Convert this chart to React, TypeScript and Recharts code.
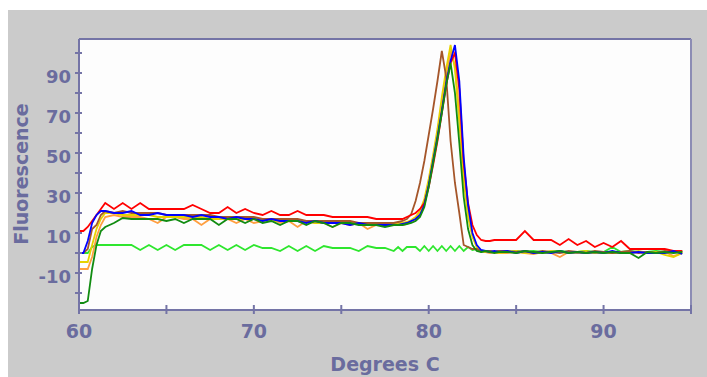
import { LineChart, Line, XAxis, YAxis, CartesianGrid, ReferenceLine } from "recharts";

const AXIS = "#7474a6";
const INK = "#6a6c9e";
const FONT = "'DejaVu Sans', Verdana, sans-serif";

// melt temperatures (°C), finer around the peak
const temps = [
  60, 60.25, 60.5, 60.75, 61, 61.25, 61.5, 62, 62.5, 63, 63.5, 64, 64.5, 65, 65.5, 66, 66.5, 67, 67.5, 68,
  68.5, 69, 69.5, 70, 70.5, 71, 71.5, 72, 72.5, 73, 73.5, 74, 74.5, 75, 75.5, 76, 76.5, 77, 77.5, 78,
  78.25, 78.5, 78.75, 79, 79.25, 79.5, 79.75, 80, 80.25, 80.5, 80.75, 81, 81.25, 81.5, 81.75, 82, 82.25, 82.5, 82.75, 83,
  83.25, 83.5, 83.75, 84,
  84.5, 85, 85.5, 86, 86.5, 87, 87.5, 88, 88.5, 89, 89.5, 90, 90.5, 91, 91.5, 92, 92.5, 93, 93.5, 94, 94.5,
];

const redCurve = [
  11, 11, 13, 16, 19, 22, 25, 22, 25, 22, 25, 22, 22, 22, 22, 22, 24, 22, 20, 20,
  23, 20, 22, 20, 19, 21, 19, 19, 21, 19, 19, 19, 18, 18, 18, 18, 18, 17, 17, 17,
  17, 17, 18, 19, 20, 22, 25, 33, 44, 56, 70, 84, 95, 100, 82, 45, 25, 14, 9, 6.5, 6, 6, 6.5, 6.5,
  6.5, 6.5, 11, 6.5, 6.5, 6.5, 4, 7, 4, 6, 3, 5, 3, 6, 2, 2, 2, 2, 2, 1, 1,
];

const blueCurve = [
  0, 0, 6, 15, 19, 21, 21, 20, 20, 21, 19, 19, 20, 19, 19, 19, 18, 19, 18, 18,
  17, 18, 17, 17, 16, 17, 16, 16, 16, 15, 16, 15, 15, 15, 14, 15, 14, 14, 14, 14,
  14, 14.5, 15, 16, 17, 19, 24, 34, 46, 58, 71, 85, 96, 104, 86, 48, 24, 10, 4, 1.5, 1, 0.5, 1, 0.5,
  1, 0, 1, 0, 0.5, 0, 1, 0, 0.5, 0, 0.5, 0, 1, 0, 0, 0.5, 0, 0, 0, 1, -0.5,
];

const brownCurve = [
  0, 0, 2, 12, 14, 19, 21, 20, 21, 20, 20, 20, 20, 19, 19, 19, 19, 19, 19, 18,
  18, 18, 18, 18, 17, 17, 17, 17, 17, 16, 16, 16, 16, 16, 16, 15, 15, 15, 15, 15,
  15.5, 16, 17, 19.5, 26, 35, 46, 59, 72, 86, 101, 88, 56, 35, 20, 4, 3, 2, 2, 1, 1, 1, 0.5, 1,
  1, 0.5, 1, 0, 1, 0.5, 0, 1, 0.5, 0, 1, 0.5, 0, 0.5, 1, 0, 0.5, 0, 1, 0.5, 0.5,
];

const darkGreenCurve = [
  -25, -25, -24, -8, 4, 11, 13, 15, 17.5, 17, 17, 17, 17, 16, 17, 15, 17, 17, 17, 14,
  17, 17, 15, 17, 15, 16, 14, 16, 16, 14, 16, 15, 13, 15, 15, 14, 14, 14, 13, 14,
  14, 14, 14.5, 15, 16, 18, 23, 33, 45, 57, 70, 84, 95, 80, 55, 28, 12, 4, 1, 0.5, 1, 0.5, 0, 0.5,
  0.5, 0, 1, 0.5, 0, 0.5, 1, 0, 0.5, 0, 0.5, 0, 0.5, 0, 0, -2.5, 0.5, 0, 0.5, 0, 0.5,
];

const yellowCurve = [
  -4.5, -4.5, -4.5, 4, 12, 17, 20, 20, 19, 19, 19, 19, 18, 18, 18, 18, 18, 18, 17, 17,
  17, 17, 17, 17, 17, 16, 16, 16, 16, 16, 15, 15, 15, 15, 15, 15, 15, 14, 14, 15,
  15, 15, 15.5, 16.5, 18, 21, 27, 37, 49, 62, 78, 92, 104, 92, 65, 36, 18, 8, 3, 1, 0.5, 1, 0.5, 0,
  0.5, 1, 0, 0.5, 0, 1, 0.5, 0, 0.5, 1, 0, 0.5, 0, 0.5, 0, 1, 0, 0.5, -1, -2, 0,
];

const orangeCurve = [
  -8, -8, -8, -2, 8, 14, 18, 19, 18, 18, 18, 17, 15, 18, 18, 17, 17, 14, 17, 17,
  17, 15, 17, 15, 16, 17, 15, 16, 13, 16, 15, 15, 13, 15, 14, 15, 12, 14, 14, 14,
  14, 14, 14.5, 15.5, 17, 20, 25, 35, 47, 60, 75, 89, 100, 94, 70, 40, 20, 9, 3, 1, 0.5, 0, 0.5, 0,
  0, 0.5, 0, -0.5, 0.5, 0, -2, 0.5, 0, 0.5, 0, 0.5, 0, 0.5, 0, 0.5, 0, 0, 0.5, -1.5, 0,
];

const limeCurve = [
  0, 0, 0, 3, 4, 4, 4, 4, 4, 4, 1.5, 4, 1.5, 4, 1.5, 4, 4, 4, 1.5, 4,
  1.5, 4, 1.5, 4, 2.5, 2.5, 1, 3.5, 1, 3.5, 1, 3.5, 2.5, 2.5, 2.5, 1, 3.5, 2.5, 2.5, 1,
  3, 1, 3, 3, 3, 1, 3.5, 1, 3.5, 1, 3.5, 1, 3.5, 1, 3.5, 1, 3, 1.5, 2, 0.5, 1, 0.5, 0.5, 1,
  0.5, 1, 0.5, 1, 0.5, 0.5, 1, 0.5, 0.5, 1, 0.5, 0.5, 3, 0.5, 1, 0.5, 0.5, 1, 0.5, 0.5, 1,
];

const xTicks = [60, 65, 70, 75, 80, 85, 90, 95];
const xLabels = [60, 70, 80, 90];
const yTicks = [-20, -10, 0, 10, 20, 30, 40, 50, 60, 70, 80, 90, 100];
const yLabels = [-10, 10, 30, 50, 70, 90];

const series = [
  { key: "lime", color: "#2ee62e", values: limeCurve },
  { key: "orange", color: "#ff9f40", values: orangeCurve },
  { key: "yellow", color: "#e6d200", values: yellowCurve },
  { key: "brown", color: "#a5562a", values: brownCurve },
  { key: "red", color: "#ff0000", values: redCurve },
  { key: "blue", color: "#0000ff", values: blueCurve },
  { key: "darkGreen", color: "#118c11", values: darkGreenCurve },
];

const rows = temps.map((t, i) => {
  const row: Record<string, number> = { t };
  series.forEach((s) => {
    row[s.key] = s.values[i];
  });
  return row;
});

function XTick({ x, y, payload }: any) {
  return (
    <g>
      <line x1={x} x2={x} y1={y - 5} y2={y + 4} stroke={AXIS} strokeWidth={2} />
      {xLabels.includes(payload.value) && (
        <text x={x} y={y + 28} textAnchor="middle" fill={INK} fontSize={19} fontWeight="bold" fontFamily={FONT}>
          {payload.value}
        </text>
      )}
    </g>
  );
}

function YTick({ x, y, payload }: any) {
  return (
    <g>
      <line x1={x - 4} x2={x + 3} y1={y} y2={y} stroke={AXIS} strokeWidth={2} />
      {yLabels.includes(payload.value) && (
        <text x={x - 8} y={y + 9.5} textAnchor="end" fill={INK} fontSize={18} fontWeight="bold" fontFamily={FONT}>
          {payload.value}
        </text>
      )}
    </g>
  );
}

export default function App() {
  return (
    <div style={{ position: "absolute", left: 8, top: 10, width: 699, height: 367, background: "#cbcbcb" }}>
      <LineChart width={699} height={367} data={rows} margin={{ top: 29, right: 16, bottom: 0, left: 0 }}>
        <CartesianGrid horizontal={false} vertical={false} fill="#fdfdfd" />
        <XAxis
          dataKey="t"
          type="number"
          domain={[60, 95]}
          ticks={xTicks}
          interval={0}
          height={67}
          tickSize={0}
          tickMargin={0}
          tick={<XTick />}
          axisLine={{ stroke: AXIS, strokeWidth: 2 }}
        />
        <YAxis
          type="number"
          domain={[-28.5, 107]}
          ticks={yTicks}
          interval={0}
          width={71}
          tickSize={0}
          tickMargin={0}
          tick={<YTick />}
          axisLine={{ stroke: AXIS, strokeWidth: 2 }}
        />
        <ReferenceLine y={107} stroke={AXIS} strokeWidth={2} />
        <ReferenceLine x={95} stroke="#8c8cb4" strokeWidth={2} />
        {series.map((s) => (
          <Line
            key={s.key}
            dataKey={s.key}
            stroke={s.color}
            strokeWidth={1.8}
            dot={false}
            type="linear"
            isAnimationActive={false}
          />
        ))}
      </LineChart>
      <svg width={699} height={367} style={{ position: "absolute", left: 0, top: 0, pointerEvents: "none" }}>
        <text x={377} y={361} textAnchor="middle" fill={INK} fontSize={19} fontWeight="bold" fontFamily={FONT}>
          Degrees C
        </text>
        <text
          transform="translate(13,164) rotate(-90)"
          textAnchor="middle"
          dominantBaseline="central"
          fill={INK}
          fontSize={19}
          fontWeight="bold"
          fontFamily={FONT}
        >
          Fluorescence
        </text>
      </svg>
    </div>
  );
}
